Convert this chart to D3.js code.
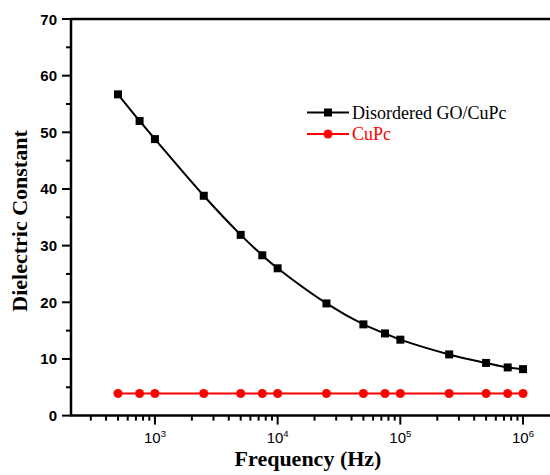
<!DOCTYPE html>
<html>
<head>
<meta charset="utf-8">
<script src="https://cdn.jsdelivr.net/npm/d3@7"></script>
<style>
  body { margin: 0; background: #fff; }
  svg { display: block; }
</style>
</head>
<body>
<svg id="chart" width="550" height="475"></svg>
<script>
const freq = [500, 750, 1000, 2500, 5000, 7500, 10000, 25000, 50000, 75000, 100000, 250000, 500000, 750000, 1000000];
const goCuPc = [56.7, 52.0, 48.8, 38.8, 31.9, 28.3, 26.0, 19.8, 16.1, 14.5, 13.4, 10.8, 9.3, 8.5, 8.2];
const cuPc = [3.9, 3.9, 3.9, 3.9, 3.9, 3.9, 3.9, 3.9, 3.9, 3.9, 3.9, 3.9, 3.9, 3.9, 3.9];
const yTicks = [0, 10, 20, 30, 40, 50, 60, 70];
const xDecades = [1e3, 1e4, 1e5, 1e6];

const svg = d3.select("#chart");
const plotLeft = 71, plotTop = 19, plotBottom = 415.6;

const x = d3.scaleLog().domain([207, 2e6]).range([plotLeft, plotLeft + 122.7 * Math.log10(2e6 / 207)]);
const y = d3.scaleLinear().domain([0, 70]).range([plotBottom, plotTop]);

// minor ticks on x
const minor = [];
for (let e = 2; e <= 6; e++) {
  for (let m = 2; m <= 9; m++) {
    const v = m * Math.pow(10, e);
    if (v >= 207 && v <= 2e6) minor.push(v);
  }
}

svg.append("g")
  .selectAll("line")
  .data(minor)
  .join("line")
  .attr("x1", d => x(d)).attr("x2", d => x(d))
  .attr("y1", plotBottom).attr("y2", plotBottom + 5)
  .attr("stroke", "#000").attr("stroke-width", 2);

svg.append("g")
  .selectAll("line")
  .data(xDecades)
  .join("line")
  .attr("x1", d => x(d)).attr("x2", d => x(d))
  .attr("y1", plotBottom).attr("y2", plotBottom + 9)
  .attr("stroke", "#000").attr("stroke-width", 2);

const xl = svg.append("g")
  .selectAll("text")
  .data(xDecades)
  .join("text")
  .attr("x", d => x(d))
  .attr("y", 443)
  .attr("text-anchor", "middle")
  .attr("font-family", "Liberation Sans, Arial, sans-serif")
  .attr("font-size", 15);
xl.append("tspan").text("10");
xl.append("tspan")
  .attr("dy", -6)
  .attr("font-size", 9.5)
  .text(d => Math.round(Math.log10(d)));

// y ticks
const yMinor = d3.range(5, 70, 10);
svg.append("g")
  .selectAll("line")
  .data(yMinor)
  .join("line")
  .attr("x1", plotLeft - 5).attr("x2", plotLeft)
  .attr("y1", d => y(d)).attr("y2", d => y(d))
  .attr("stroke", "#000").attr("stroke-width", 2);

svg.append("g")
  .selectAll("line")
  .data(yTicks)
  .join("line")
  .attr("x1", plotLeft - 9).attr("x2", plotLeft)
  .attr("y1", d => y(d)).attr("y2", d => y(d))
  .attr("stroke", "#000").attr("stroke-width", 2);

svg.append("g")
  .selectAll("text")
  .data(yTicks)
  .join("text")
  .attr("x", 57)
  .attr("y", d => y(d) + 5.5)
  .attr("text-anchor", "end")
  .attr("font-family", "Liberation Sans, Arial, sans-serif")
  .attr("font-weight", "bold")
  .attr("font-size", 15)
  .text(d => d);

// frame
svg.append("line")
  .attr("x1", plotLeft).attr("x2", plotLeft).attr("y1", plotTop).attr("y2", plotBottom)
  .attr("stroke", "#000").attr("stroke-width", 2.5);
svg.append("line")
  .attr("x1", plotLeft - 1).attr("x2", 550).attr("y1", plotTop).attr("y2", plotTop)
  .attr("stroke", "#000").attr("stroke-width", 2.5);
svg.append("line")
  .attr("x1", plotLeft - 1).attr("x2", 550).attr("y1", plotBottom).attr("y2", plotBottom)
  .attr("stroke", "#000").attr("stroke-width", 2.5);

// series
const line = d3.line()
  .x(d => x(d[0]))
  .y(d => y(d[1]))
  .curve(d3.curveCatmullRom.alpha(0.5));

const blackPts = freq.map((f, i) => [f, goCuPc[i]]);
const redPts = freq.map((f, i) => [f, cuPc[i]]);

svg.append("path")
  .attr("d", line(redPts))
  .attr("fill", "none").attr("stroke", "#ff0000").attr("stroke-width", 2);
svg.append("g")
  .selectAll("circle")
  .data(redPts)
  .join("circle")
  .attr("cx", d => x(d[0])).attr("cy", d => y(d[1]))
  .attr("r", 4.5)
  .attr("fill", "#ff0000");

svg.append("path")
  .attr("d", line(blackPts))
  .attr("fill", "none").attr("stroke", "#000").attr("stroke-width", 2);
svg.append("g")
  .selectAll("rect")
  .data(blackPts)
  .join("rect")
  .attr("x", d => x(d[0]) - 4).attr("y", d => y(d[1]) - 4)
  .attr("width", 8).attr("height", 8)
  .attr("fill", "#000");

// legend
const legend = svg.append("g").attr("font-family", "Liberation Serif, Times New Roman, serif").attr("font-size", 18);
legend.append("line").attr("x1", 307).attr("x2", 349).attr("y1", 112.5).attr("y2", 112.5)
  .attr("stroke", "#000").attr("stroke-width", 2);
legend.append("rect").attr("x", 324).attr("y", 108.5).attr("width", 8).attr("height", 8).attr("fill", "#000");
legend.append("text").attr("x", 352).attr("y", 118.5).text("Disordered GO/CuPc");
legend.append("line").attr("x1", 307).attr("x2", 349).attr("y1", 134).attr("y2", 134)
  .attr("stroke", "#ff0000").attr("stroke-width", 2);
legend.append("circle").attr("cx", 328).attr("cy", 134).attr("r", 4.5).attr("fill", "#ff0000");
legend.append("text").attr("x", 352).attr("y", 139.5).attr("fill", "#ff0000").text("CuPc");

// axis titles
svg.append("text")
  .attr("x", 308).attr("y", 466)
  .attr("text-anchor", "middle")
  .attr("font-family", "Liberation Serif, Times New Roman, serif")
  .attr("font-weight", "bold")
  .attr("font-size", 22)
  .text("Frequency (Hz)");

svg.append("text")
  .attr("transform", "translate(27,221) rotate(-90)")
  .attr("text-anchor", "middle")
  .attr("font-family", "Liberation Serif, Times New Roman, serif")
  .attr("font-weight", "bold")
  .attr("font-size", 22)
  .text("Dielectric Constant");
</script>
</body>
</html>
